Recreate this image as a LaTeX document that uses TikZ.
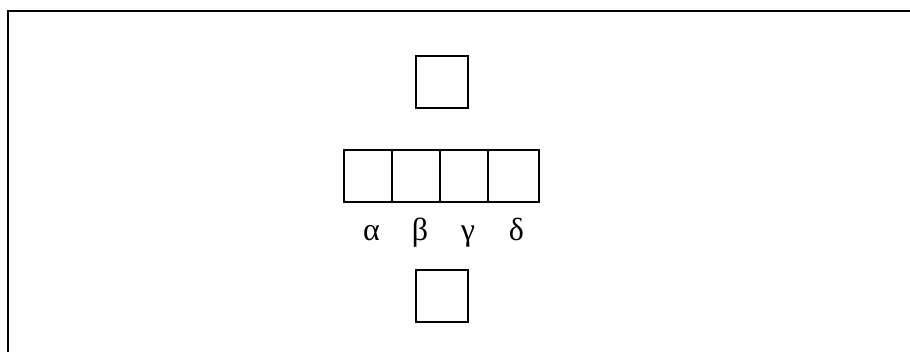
\documentclass[tikz,border=0pt]{standalone}
\usepackage{fontspec}
\setmainfont{Liberation Serif}
\usetikzlibrary{positioning}
\tikzset{
    cell/.style={
        rectangle,
        draw=black,
        line width=1.6pt,
        minimum width=#1,
        minimum height=52pt,
        inner sep=0pt,
    },
    cell/.default=52pt,
    letter/.style={
        font=\fontsize{32}{36}\selectfont,
        inner sep=0pt,
        anchor=base,
    },
    frame line/.style={
        line width=1.8pt,
        draw=black,
    },
}

\begin{document}
\begin{tikzpicture}[x=1pt, y=-1pt]
\useasboundingbox (0,0) rectangle (910,352);

% ── FRAME ───────────────────────────────────────────────────────────
\coordinate (frame-bl) at (8,352);
\coordinate (frame-tl) at (8,11);
\coordinate (frame-tr) at (910,11);
\draw[frame line] (frame-bl) -- (frame-tl) -- (frame-tr);

% ── TOP AND BOTTOM SQUARES ──────────────────────────────────────────
\node[cell] (top) at (442,82) {};
\node[cell] (bottom) at (442,296) {};

% ── ROW OF CELLS ────────────────────────────────────────────────────
\node[cell=48pt] (alpha) at (368,176) {};
\node[cell=48pt] (beta) at (416,176) {};
\node[cell=48pt] (gamma) at (464,176) {};
\node[cell=51pt] (delta) at (513.5,176) {};

% ── LABELS ──────────────────────────────────────────────────────────
\node[letter] (alpha-label) at (371.5,241) {α};
\node[letter] (beta-label) at (420,241) {β};
\node[letter] (gamma-label) at (468,241) {γ};
\node[letter] (delta-label) at (516.5,241) {δ};

\end{tikzpicture}
\end{document}
